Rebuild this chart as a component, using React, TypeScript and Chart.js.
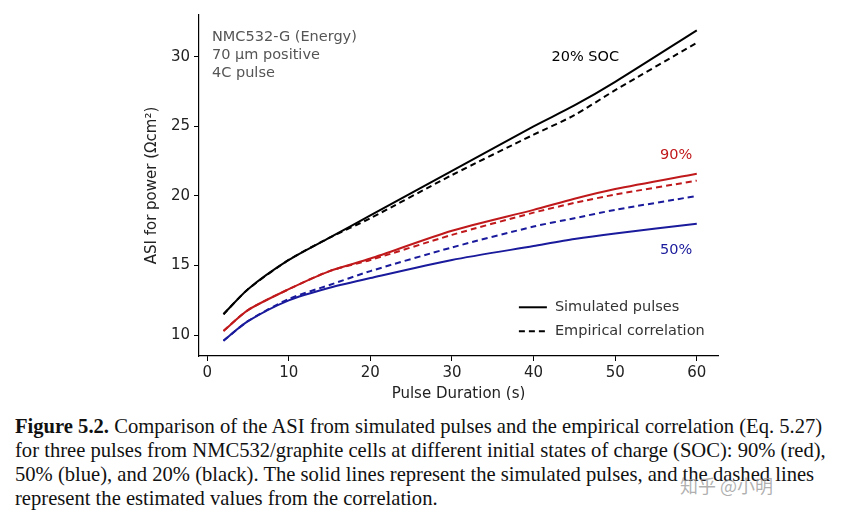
import React, { useEffect, useRef } from "react";
import { Chart, registerables } from "chart.js";
Chart.register(...registerables);

const xs = [2, 5, 10, 15, 20, 30, 40, 45, 50, 60];
const blackSim = [11.5, 13.3, 15.4, 17.0, 18.6, 21.8, 25.0, 26.5, 28.2, 31.9];
const blackEmp = [11.5, 13.3, 15.4, 17.0, 18.4, 21.5, 24.4, 25.8, 27.6, 31.0];
const redSim = [10.3, 11.8, 13.3, 14.6, 15.5, 17.5, 19.0, 19.8, 20.5, 21.6];
const redEmp = [10.3, 11.8, 13.3, 14.6, 15.4, 17.2, 18.8, 19.5, 20.1, 21.1];
const blueSim = [9.6, 11.0, 12.5, 13.4, 14.1, 15.4, 16.4, 16.9, 17.3, 18.0];
const blueEmp = [9.6, 11.0, 12.6, 13.6, 14.6, 16.3, 17.8, 18.4, 19.0, 20.0];
const xTicks = [0, 10, 20, 30, 40, 50, 60];
const yTicks = [10, 15, 20, 25, 30];

const FONT = "DejaVu Sans";

const annot = {
  id: "annot",
  afterDraw(chart: any) {
    const { ctx, chartArea: a, scales } = chart;
    const X = scales.x, Y = scales.y;
    ctx.save();
    ctx.font = `14.5px ${FONT}`;
    ctx.fillStyle = "#555";
    ctx.textBaseline = "middle";
    ["NMC532-G (Energy)", "70 µm positive", "4C pulse"].forEach((t, i) => ctx.fillText(t, a.left + 13, a.top + 22 + i * 18));
    ctx.fillStyle = "#000";
    ctx.fillText("20% SOC", X.getPixelForValue(42.2), Y.getPixelForValue(30.0));
    ctx.fillStyle = "#c0191c";
    ctx.fillText("90%", X.getPixelForValue(55.5), Y.getPixelForValue(22.9));
    ctx.fillStyle = "#1a1a9c";
    ctx.fillText("50%", X.getPixelForValue(55.5), Y.getPixelForValue(16.1));
    ctx.fillStyle = "#333";
    const lx = X.getPixelForValue(38.2);
    [["Simulated pulses", []], ["Empirical correlation", [6, 4]]].forEach(([t, d]: any, i) => {
      const y = Y.getPixelForValue(12.0) + i * 24;
      ctx.strokeStyle = "#000";
      ctx.lineWidth = 2;
      ctx.setLineDash(d);
      ctx.beginPath();
      ctx.moveTo(lx, y);
      ctx.lineTo(lx + 28, y);
      ctx.stroke();
      ctx.setLineDash([]);
      ctx.fillText(t, lx + 36, y);
    });
    ctx.fillStyle = "#222";
    ctx.font = `15px ${FONT}`;
    ctx.textAlign = "center";
    ctx.fillText("Pulse Duration (s)", (a.left + a.right) / 2, 394);
    ctx.translate(152, (a.top + a.bottom) / 2);
    ctx.rotate(-Math.PI / 2);
    ctx.fillText("ASI for power (Ωcm²)", 0, 0);
    ctx.restore();
  },
};

export default function App() {
  const ref = useRef<HTMLCanvasElement>(null);
  useEffect(() => {
    document.body.style.margin = "0";
    const mk = (d: number[], c: string, dash: number[]) => ({
      data: xs.map((x, i) => ({ x, y: d[i] })),
      borderColor: c,
      borderWidth: 2,
      borderDash: dash,
      pointRadius: 0,
      tension: 0.25,
      fill: false,
    });
    const grid = { display: true, drawOnChartArea: false, drawTicks: true, tickLength: 5, color: "#000" };
    const chart = new Chart(ref.current!, {
      type: "line",
      data: {
        datasets: [
          mk(blackSim, "#000", []),
          mk(blackEmp, "#000", [6, 4]),
          mk(redSim, "#c0191c", []),
          mk(redEmp, "#c0191c", [6, 4]),
          mk(blueSim, "#1a1a9c", []),
          mk(blueEmp, "#1a1a9c", [6, 4]),
        ],
      },
      plugins: [annot],
      options: {
        animation: false,
        responsive: false,
        layout: { padding: { top: 15, right: 147, left: 0, bottom: 0 } },
        plugins: { legend: { display: false }, tooltip: { enabled: false } },
        scales: {
          x: {
            type: "linear",
            min: -1,
            max: 62.6,
            afterBuildTicks: (s: any) => { s.ticks = xTicks.map((v) => ({ value: v })); },
            afterFit: (s: any) => { s.height = 44; },
            grid,
            border: { color: "#000", width: 1.2 },
            ticks: { color: "#222", font: { family: FONT, size: 15 }, padding: 3 },
          },
          y: {
            min: 8.5,
            max: 33,
            afterBuildTicks: (s: any) => { s.ticks = yTicks.map((v) => ({ value: v })); },
            afterFit: (s: any) => { s.width = 199; },
            grid,
            border: { color: "#000", width: 1.2 },
            ticks: { color: "#222", font: { family: FONT, size: 15 }, padding: 4 },
          },
        } as any,
      },
    });
    return () => chart.destroy();
  }, []);
  return (
    <div style={{ position: "relative", width: 865, height: 524, background: "#fff" }}>
      <canvas ref={ref} width={865} height={400} style={{ position: "absolute", left: 0, top: 0 }} />
      <div style={{ position: "absolute", left: 15, top: 414, whiteSpace: "nowrap", fontFamily: "'Liberation Serif', serif", fontSize: 20.6, lineHeight: "24px", color: "#111" }}>
        <b>Figure 5.2.</b> Comparison of the ASI from simulated pulses and the empirical correlation (Eq. 5.27)<br />
        for three pulses from NMC532/graphite cells at different initial states of charge (SOC): 90% (red),<br />
        50% (blue), and 20% (black). The solid lines represent the simulated pulses, and the dashed lines<br />
        represent the estimated values from the correlation.
      </div>
      <div style={{ position: "absolute", left: 680, top: 472, fontFamily: "'Noto Sans CJK SC', sans-serif", fontSize: 18, color: "rgba(150,150,150,0.75)" }}>知乎 @小明</div>
    </div>
  );
}
